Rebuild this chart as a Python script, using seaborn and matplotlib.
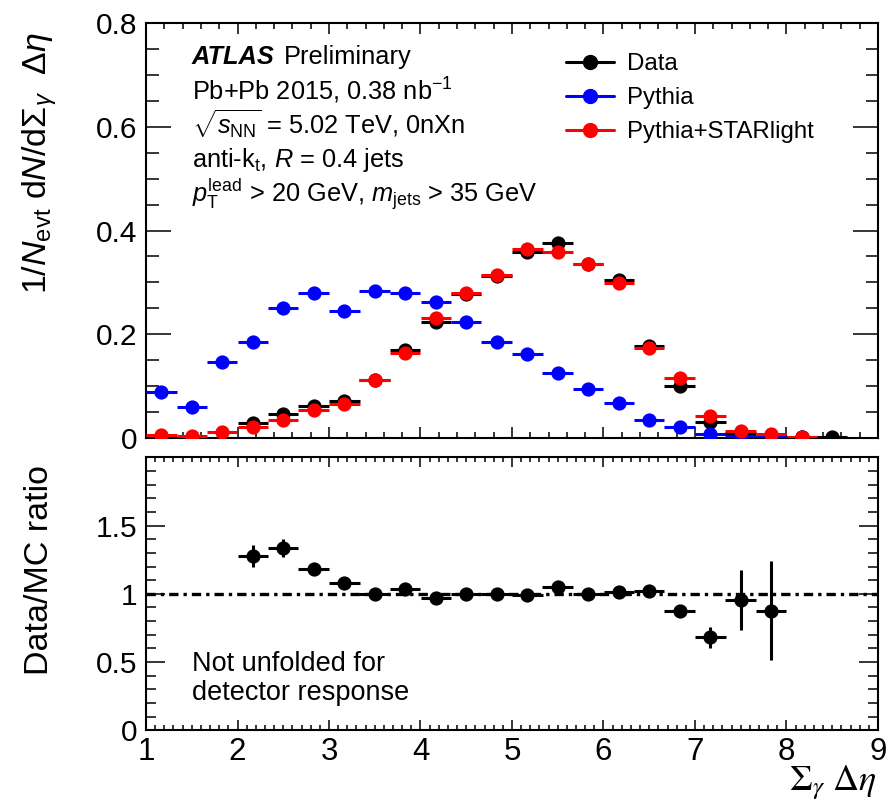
import numpy as np
import pandas as pd
import matplotlib
matplotlib.use("Agg")
import matplotlib.pyplot as plt
from matplotlib.lines import Line2D
from matplotlib.ticker import MultipleLocator
import seaborn as sns

# ---- data -------------------------------------------------------------
bin_half_width = 1.0 / 6.0

pythia_x = [1.167, 1.5, 1.833, 2.167, 2.5, 2.833, 3.167, 3.5, 3.833, 4.167, 4.5,
            4.833, 5.167, 5.5, 5.833, 6.167, 6.5, 6.833, 7.167, 7.5, 7.833, 8.167]
pythia_y = [0.089, 0.060, 0.147, 0.186, 0.251, 0.279, 0.245, 0.283, 0.279, 0.262, 0.224,
            0.186, 0.161, 0.126, 0.094, 0.068, 0.035, 0.021, 0.007, 0.004, 0.003, 0.002]

starlight_x = pythia_x
starlight_y = [0.005, 0.004, 0.012, 0.021, 0.035, 0.054, 0.066, 0.112, 0.164, 0.232, 0.279,
               0.314, 0.364, 0.358, 0.335, 0.298, 0.173, 0.116, 0.042, 0.013, 0.007, 0.002]

data_x = [2.167, 2.5, 2.833, 3.167, 3.5, 3.833, 4.167, 4.5, 4.833, 5.167,
          5.5, 5.833, 6.167, 6.5, 6.833, 7.167, 7.5, 7.833, 8.167, 8.5]
data_y = [0.028, 0.047, 0.062, 0.071, 0.111, 0.170, 0.224, 0.278, 0.313, 0.358,
          0.375, 0.335, 0.305, 0.177, 0.101, 0.030, 0.010, 0.004, 0.002, 0.002]

ratio_x = [2.167, 2.5, 2.833, 3.167, 3.5, 3.833, 4.167, 4.5, 4.833,
           5.167, 5.5, 5.833, 6.167, 6.5, 6.833, 7.167, 7.5, 7.833]
ratio_y = [1.277, 1.333, 1.184, 1.081, 1.000, 1.032, 0.971, 1.000, 0.995,
           0.990, 1.051, 1.002, 1.012, 1.019, 0.877, 0.681, 0.958, 0.877]
ratio_err = [0.080, 0.067, 0.030, 0.020, 0.015, 0.015, 0.015, 0.015, 0.015,
             0.015, 0.015, 0.015, 0.020, 0.020, 0.030, 0.078, 0.220, 0.360]

series_labels = ["Data", "Pythia", "Pythia+STARlight"]
series_colors = ["black", "#0000ff", "#ff0000"]

top_yticks = [0, 0.2, 0.4, 0.6, 0.8]
top_yticklabels = ["0", "0.2", "0.4", "0.6", "0.8"]
ratio_yticks = [0, 0.5, 1, 1.5]
ratio_yticklabels = ["0", "0.5", "1", "1.5"]
xticks = [1, 2, 3, 4, 5, 6, 7, 8, 9]

# ---- style ------------------------------------------------------------
sns.set_theme(style="ticks")
plt.rcParams["font.family"] = ["Liberation Sans", "DejaVu Sans"]
plt.rcParams["mathtext.fontset"] = "custom"
plt.rcParams["mathtext.rm"] = "Liberation Sans"
plt.rcParams["mathtext.sf"] = "Liberation Sans"
plt.rcParams["mathtext.it"] = "Liberation Sans:italic"
plt.rcParams["mathtext.bf"] = "Liberation Sans:bold"
for key in ("text.color", "axes.labelcolor", "xtick.color", "ytick.color", "axes.edgecolor"):
    plt.rcParams[key] = "black"

W, H = 887, 806
fig = plt.figure(figsize=(W / 100, H / 100), dpi=100)


def fx(px):
    return px / W


def fy(py):
    return 1 - py / H


ax_top = fig.add_axes([fx(146), fy(438), 732 / W, 415 / H])
ax_rat = fig.add_axes([fx(146), fy(730.3), 732 / W, 273 / H])

marker_s = 105


def draw_series(ax, df, color, z):
    ax.errorbar(df["x"], df["y"], xerr=bin_half_width, yerr=df["err"],
                fmt="none", ecolor=color, elinewidth=2.2, capsize=0, zorder=z)
    sns.scatterplot(data=df, x="x", y="y", ax=ax, color=color, s=marker_s,
                    linewidth=0, zorder=z + 0.5, legend=False)


frames = [
    pd.DataFrame({"x": data_x, "y": data_y, "err": 0.002}),
    pd.DataFrame({"x": pythia_x, "y": pythia_y, "err": 0.0}),
    pd.DataFrame({"x": starlight_x, "y": starlight_y, "err": 0.0}),
]
for i, (df, col) in enumerate(zip(frames, series_colors)):
    draw_series(ax_top, df, col, 3 + i)

ratio_df = pd.DataFrame({"x": ratio_x, "y": ratio_y, "err": ratio_err})
ax_rat.axhline(1.0, color="black", lw=2.4, linestyle=(0, (2.8, 1.5, 1.0, 1.5)), zorder=2)
draw_series(ax_rat, ratio_df, "black", 3)

# ---- axes cosmetics ---------------------------------------------------
for ax in (ax_top, ax_rat):
    ax.set_xlim(1, 9)
    ax.set_xticks(xticks)
    ax.set_xlabel("")
    ax.set_ylabel("")
    for sp in ax.spines.values():
        sp.set_visible(True)
        sp.set_linewidth(1.5)
        sp.set_color("black")
    ax.tick_params(which="both", direction="in", top=True, right=True,
                   color="black", labelcolor="black", width=1.1, labelsize=21.5, pad=6)

ax_top.set_ylim(0, 0.8)
ax_top.set_yticks(top_yticks)
ax_top.set_yticklabels(top_yticklabels)
ax_top.xaxis.set_minor_locator(MultipleLocator(0.2))
ax_top.yaxis.set_minor_locator(MultipleLocator(0.05))
ax_top.tick_params(axis="x", which="major", length=8, labelbottom=False)
ax_top.tick_params(axis="x", which="minor", length=4)
ax_top.tick_params(axis="y", which="major", length=18)
ax_top.tick_params(axis="y", which="minor", length=9)

ax_rat.set_ylim(0, 2.0)
ax_rat.set_yticks(ratio_yticks)
ax_rat.set_yticklabels(ratio_yticklabels)
ax_rat.set_xticklabels([str(t) for t in xticks])
ax_rat.xaxis.set_minor_locator(MultipleLocator(0.1))
ax_rat.yaxis.set_minor_locator(MultipleLocator(0.1))
ax_rat.tick_params(axis="x", which="major", length=7, labelsize=22.5, pad=5)
ax_rat.tick_params(axis="x", which="minor", length=3.5)
ax_rat.tick_params(axis="y", which="major", length=14)
ax_rat.tick_params(axis="y", which="minor", length=7)

# ---- titles -----------------------------------------------------------
fig.text(fx(40), fy(163), r"1/$N_{\mathrm{evt}}$ d$N$/d$\Sigma_{\gamma}$  $\mathit{\Delta\eta}$",
         rotation=90, ha="center", va="center", fontsize=24.5)
fig.text(fx(40), fy(570), "Data/MC ratio", rotation=90, ha="center", va="center", fontsize=24.5)
fig.text(fx(877), fy(790), r"$\Sigma_{\gamma}\ \mathit{\Delta\eta}$", ha="right", va="baseline",
         fontsize=26, math_fontfamily="stix")

# ---- annotations ------------------------------------------------------
info_size = 18.3
fig.text(fx(192), fy(64), "ATLAS", fontsize=info_size, fontweight="bold", fontstyle="italic",
         va="baseline")
fig.text(fx(284), fy(64), "Preliminary", fontsize=info_size, va="baseline")
info_lines = [
    r"Pb+Pb 2015, 0.38 nb$^{\mathregular{-1}}$",
    r"$\sqrt{s_{\mathrm{NN}}}$ = 5.02 TeV, 0nXn",
    r"anti-k$_{\mathrm{t}}$, $R$ = 0.4 jets",
    r"$p_{\mathrm{T}}^{\mathrm{lead}}$ > 20 GeV, $m_{\mathrm{jets}}$ > 35 GeV",
]
for yb, line in zip([100, 135, 167, 202], info_lines):
    fig.text(fx(192), fy(yb), line, fontsize=info_size, va="baseline")

fig.text(fx(192), fy(671), "Not unfolded for", fontsize=19.5, va="baseline")
fig.text(fx(192), fy(700), "detector response", fontsize=19.5, va="baseline")

handles = [Line2D([], [], color=c, marker="o", markersize=10, lw=2.2) for c in series_colors]
ax_top.legend(handles, series_labels, loc="upper left", bbox_to_anchor=(fx(566), fy(53)),
              bbox_transform=fig.transFigure, frameon=False, fontsize=17.3,
              handlelength=2.0, handletextpad=0.55, labelspacing=0.5,
              borderpad=0, borderaxespad=0)

fig.savefig("out.png", dpi=100)
